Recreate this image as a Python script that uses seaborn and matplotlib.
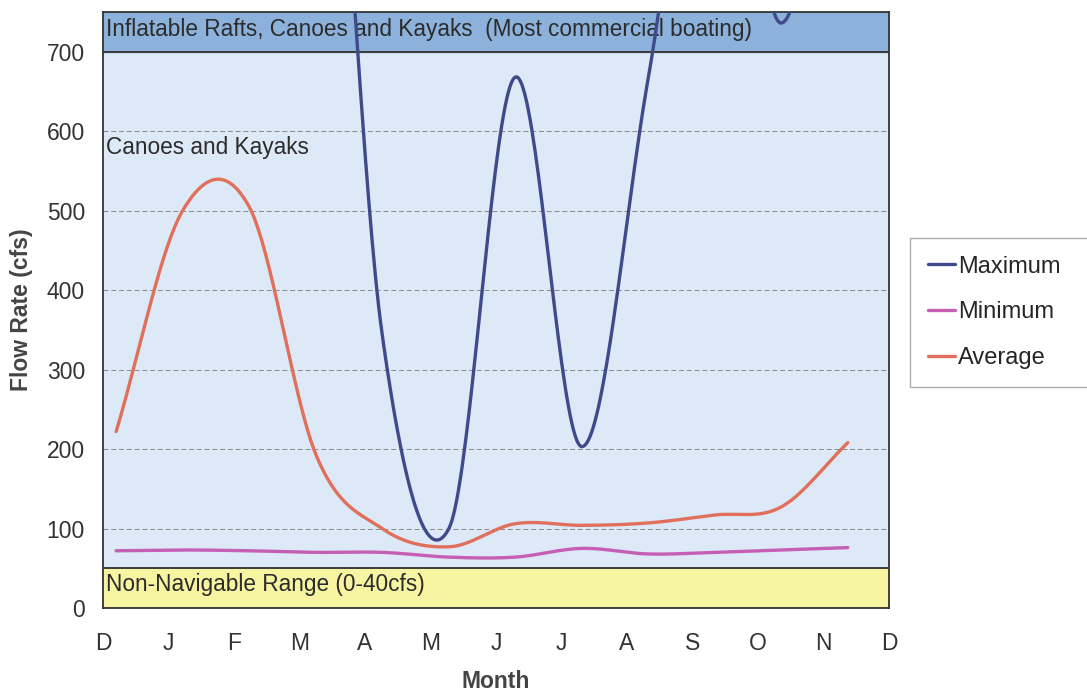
import numpy as np
import pandas as pd
import seaborn as sns
import matplotlib.pyplot as plt

# sample positions (months after start of December) and flow readings (cfs)
sample_month = [0.2, 1.215, 2.23, 3.25, 4.26, 5.28, 6.29, 7.31, 8.32, 9.34, 10.35, 11.37]
maximum = [1250, 1300, 950, 1300, 345, 100, 668, 203, 665, 1150, 736, 1150]
minimum = [72, 73, 72, 70, 70, 64, 64, 75, 68, 70, 73, 76]
average = [222, 500, 505, 193, 100, 77, 106, 104, 107, 117, 127, 208]
month_labels = ['D', 'J', 'F', 'M', 'A', 'M', 'J', 'J', 'A', 'S', 'O', 'N', 'D']
series_names = ['Maximum', 'Minimum', 'Average']
series_colors = ['#3f4a8a', '#c45fb4', '#e0705c']


def smooth(x, y, n=40):
    # Excel-style smoothed line (Catmull-Rom through every point)
    x = np.asarray(x, float)
    y = np.asarray(y, float)
    px = np.r_[2 * x[0] - x[1], x, 2 * x[-1] - x[-2]]
    py = np.r_[2 * y[0] - y[1], y, 2 * y[-1] - y[-2]]
    xs, ys = [], []
    t = np.linspace(0, 1, n, endpoint=False)
    h00 = 2 * t**3 - 3 * t**2 + 1
    h10 = t**3 - 2 * t**2 + t
    h01 = -2 * t**3 + 3 * t**2
    h11 = t**3 - t**2
    for i in range(1, len(px) - 2):
        for p, out in ((px, xs), (py, ys)):
            m0 = (p[i + 1] - p[i - 1]) / 2
            m1 = (p[i + 2] - p[i]) / 2
            out.append(h00 * p[i] + h10 * m0 + h01 * p[i + 1] + h11 * m1)
    xs.append([x[-1]])
    ys.append([y[-1]])
    return np.concatenate(xs), np.concatenate(ys)


frames = []
for name, vals in zip(series_names, [maximum, minimum, average]):
    sx, sy = smooth(sample_month, vals)
    frames.append(pd.DataFrame({'Month': sx, 'Flow': sy, 'Series': name}))
df = pd.concat(frames, ignore_index=True)

sns.set_style('white')
plt.rcParams['font.family'] = ['Liberation Sans', 'DejaVu Sans']

fig = plt.figure(figsize=(10.87, 6.92), dpi=100)
ax = fig.add_axes([0.0948, 0.1214, 0.7231, 0.8613])
ax.set_facecolor('#dde9f6')

# navigation bands
ax.axhspan(700, 750, color='#8cb2dc', zorder=0)
ax.axhspan(0, 50, color='#f7f4a2', zorder=0)
ax.axhline(700, color='#3a3a3a', lw=1.4, zorder=1)
ax.axhline(50, color='#3a3a3a', lw=1.4, zorder=1)
for yv in range(100, 700, 100):
    ax.axhline(yv, color='#8a8a8a', lw=0.7, ls=(0, (5, 3)), zorder=1)

sns.lineplot(data=df, x='Month', y='Flow', hue='Series', hue_order=series_names,
             palette=series_colors, estimator=None, sort=False, lw=2.4, ax=ax, zorder=3)

band_font = dict(fontsize=16.3, color='#2b2b2b', va='center', ha='left')
ax.text(0.04, 728, 'Inflatable Rafts, Canoes and Kayaks  (Most commercial boating)',
        zorder=2, **band_font)
ax.text(0.04, 579, 'Canoes and Kayaks', **band_font)
ax.text(0.04, 29, 'Non-Navigable Range (0-40cfs)', **band_font)

ax.set_xlim(0, 12)
ax.set_ylim(0, 750)
ax.set_xticks(range(13))
ax.set_xticklabels(month_labels)
ax.set_yticks(range(0, 800, 100))
ax.tick_params(axis='both', labelsize=16.5, colors='#333333', length=6, width=1, direction='out')
ax.tick_params(axis='x', pad=11)
ax.tick_params(axis='y', pad=7)
ax.set_xlabel('Month', fontsize=16.5, fontweight='bold', color='#444444', labelpad=11)
ax.set_ylabel('Flow Rate (cfs)', fontsize=16.5, fontweight='bold', color='#444444', labelpad=10)
for s in ax.spines.values():
    s.set_color('#333333')
    s.set_linewidth(1.3)

leg = ax.legend(loc='upper left', bbox_to_anchor=(910 / 1087, 1 - 238 / 692 - 0.01, 0.2, 0.01),
                bbox_transform=fig.transFigure, mode='expand', frameon=True, fancybox=False,
                fontsize=17, handlelength=1.15, handletextpad=0.15, labelspacing=1.0,
                borderpad=0.75, borderaxespad=0, title=None)
leg.get_frame().set_edgecolor('#999999')
leg.get_frame().set_linewidth(1.0)
for line in leg.get_lines():
    line.set_linewidth(2.4)

fig.savefig('out.png', dpi=100)
